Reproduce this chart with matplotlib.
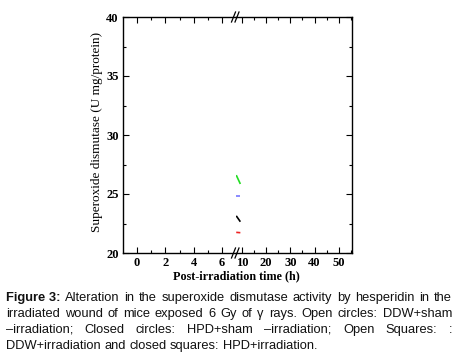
import matplotlib
matplotlib.use("Agg")
import matplotlib.pyplot as plt
from matplotlib.ticker import MultipleLocator, FixedLocator
from matplotlib.lines import Line2D

# ---- data (visible fragments near the axis break) ----
series_names = ["HPD+irradiation", "DDW+irradiation", "HPD+sham", "DDW+sham"]
series_colors = ["#22dd22", "#7777ff", "#000000", "#ee2222"]
seg_x = [7.6, 9.3]
green_y = [26.6, 25.85]
blue_y = [24.83, 24.83]
black_y = [23.15, 22.65]
red_y = [21.75, 21.72]
series_y = [green_y, blue_y, black_y, red_y]

left_ticks = [0, 2, 4, 6]
right_ticks = [10, 20, 30, 40, 50]
y_ticks = [20, 25, 30, 35, 40]

W, H = 459, 353
fig = plt.figure(figsize=(W / 100, H / 100), dpi=100)
serif = "Liberation Serif"

L, R, T, B = 123, 352, 17, 253
BRK = 236
axl = fig.add_axes([L / W, 1 - B / H, (BRK - L) / W, (B - T) / H])
axr = fig.add_axes([BRK / W, 1 - B / H, (R - BRK) / W, (B - T) / H])

for ax in (axl, axr):
    ax.set_ylim(20, 40)
    ax.set_facecolor("none")
    for s in ax.spines.values():
        s.set_linewidth(1.0)
    ax.tick_params(which="both", direction="in", top=True, width=0.8)
    ax.tick_params(which="major", length=4)
    ax.tick_params(which="minor", length=2.5)
    ax.yaxis.set_minor_locator(MultipleLocator(2.5))

axl.set_xlim(-1, 7)
axl.spines["right"].set_visible(False)
axl.xaxis.set_major_locator(FixedLocator(left_ticks))
axl.xaxis.set_minor_locator(FixedLocator([1, 3, 5]))
axl.set_yticks(y_ticks)
axl.tick_params(which="both", right=False, left=True)

axr.set_xlim(7.5, 55.5)
axr.spines["left"].set_visible(False)
axr.xaxis.set_major_locator(FixedLocator(right_ticks))
axr.xaxis.set_minor_locator(FixedLocator([15, 25, 35, 45, 55]))
axr.set_yticks(y_ticks)
axr.tick_params(which="both", left=False, right=True, labelleft=False)

for ax in (axl, axr):
    for lab in ax.get_xticklabels() + ax.get_yticklabels():
        lab.set_fontfamily(serif)
        lab.set_fontweight("bold")
        lab.set_fontsize(9)
    ax.tick_params(axis="both", pad=3)

for ys, c in zip(series_y, series_colors):
    axr.plot(seg_x, ys, color=c, lw=1.2, solid_capstyle="butt", clip_on=True)

# break marks
for yy in (T, B):
    for dx in (-2.5, 1.0):
        x0 = BRK + dx
        fig.add_artist(Line2D([(x0 - 2) / W, (x0 + 2) / W],
                              [1 - (yy + 5) / H, 1 - (yy - 5) / H],
                              color="black", lw=0.9))

fig.text(236 / W, 1 - 276 / H, "Post-irradiation time (h)", ha="center", va="center",
         fontfamily=serif, fontweight="bold", fontsize=8.7)
fig.text(97 / W, 1 - 132 / H, "Superoxide dismutase (U mg/protein)", ha="center", va="center",
         rotation=90, fontfamily=serif, fontweight="normal", fontsize=9.5)

# caption, justified
CAP_FS = 9.3
cap_lines = [
    [("Figure 3:", True), ("Alteration", False), ("in", False), ("the", False), ("superoxide", False),
     ("dismutase", False), ("activity", False), ("by", False), ("hesperidin", False), ("in", False), ("the", False)],
    [(w, False) for w in "irradiated wound of mice exposed 6 Gy of γ rays. Open circles: DDW+sham".split()],
    [(w, False) for w in "–irradiation; Closed circles: HPD+sham –irradiation; Open Squares: :".split()],
    [(w, False) for w in "DDW+irradiation and closed squares: HPD+irradiation.".split()],
]
cap_y = [298, 314, 330, 346]
xl, xr = 6, 452
fig.canvas.draw()
rend = fig.canvas.get_renderer()
for i, (words, yy) in enumerate(zip(cap_lines, cap_y)):
    texts = []
    widths = []
    for w, bold in words:
        t = fig.text(0, 1 - yy / H, w, ha="left", va="center", fontfamily="Liberation Sans",
                     fontsize=CAP_FS, fontweight="bold" if bold else "normal", color="#111111")
        texts.append(t)
        widths.append(t.get_window_extent(rend).width)
    if i < len(cap_lines) - 1:
        gap = (xr - xl - sum(widths)) / (len(words) - 1)
    else:
        sp = fig.text(0, 0, "a a", fontfamily="Liberation Sans", fontsize=CAP_FS)
        sa = fig.text(0, 0, "aa", fontfamily="Liberation Sans", fontsize=CAP_FS)
        gap = sp.get_window_extent(rend).width - sa.get_window_extent(rend).width
        sp.remove(); sa.remove()
    x = xl
    for t, wd in zip(texts, widths):
        t.set_x(x / W)
        x += wd + gap

fig.savefig("out.png", dpi=100)
